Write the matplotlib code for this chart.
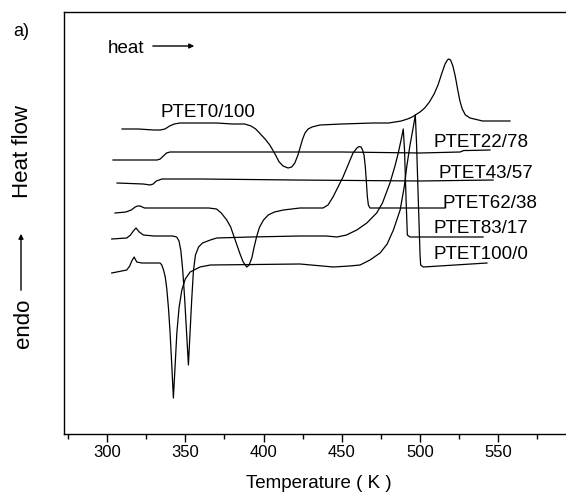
import matplotlib
matplotlib.use("Agg")
import matplotlib.pyplot as plt

plt.rcParams['font.family'] = ['Liberation Sans', 'DejaVu Sans']

# DSC heating traces, temperature (K) vs heat flow (a.u., curves offset)
t_0_100 = [309.6, 320, 330, 334, 337, 340, 343, 346.6, 355, 370, 380, 388, 392, 395, 398, 401, 404,
           407, 410, 412.5, 415.7, 418, 420, 422, 423.5, 425, 426.5, 428.5, 431, 436, 450, 470, 480,
           488, 492, 495, 500, 503, 506, 509, 511.5, 514, 516, 517.5, 518.5, 519.5, 521, 522.5, 524,
           525.5, 527, 529, 532, 540, 557.5]
hf_0_100 = [30.5, 30.5, 30.4, 30.4, 30.5, 30.8, 31.0, 31.1, 31.1, 31.1, 31.0, 31.0, 30.8, 30.5, 30.0, 29.5, 28.9,
            28.1, 27.2, 26.8, 26.6, 26.7, 27.1, 27.9, 28.7, 29.5, 30.1, 30.5, 30.7, 30.9, 31.0, 31.1, 31.1,
            31.3, 31.5, 31.7, 32.2, 32.6, 33.2, 34.0, 34.9, 36.1, 37.0, 37.4, 37.5, 37.4, 36.8, 35.8, 34.5,
            33.3, 32.5, 31.9, 31.6, 31.3, 31.3]

t_22_78 = [303.8, 320, 332, 334, 336, 338, 340.3, 360, 400, 450, 500, 525.6, 528, 530.7, 544.7]
hf_22_78 = [27.4, 27.4, 27.4, 27.5, 27.8, 28.1, 28.2, 28.2, 28.2, 28.2, 28.1, 28.2, 28.35, 28.35, 28.4]

t_43_57 = [306.4, 323, 325.5, 327.5, 329.5, 331.5, 335.1, 360, 420, 500, 546.7]
hf_43_57 = [25.1, 25.0, 24.95, 24.9, 25.0, 25.3, 25.5, 25.5, 25.4, 25.3, 25.4]

t_62_38 = [305.1, 312, 315.5, 318, 319.5, 321.1, 322.5, 324, 327.5, 350, 365, 370, 373, 376.5, 379,
           381, 383, 385, 387, 389.3, 390.8, 392.5, 394, 395.7, 397.5, 400, 403, 407, 412.7, 423.3,
           438.0, 441.2, 444.4, 447.6, 450.8, 454.0, 457.2, 459.7, 461.0, 462.3, 463.3, 464.2, 465.0,
           465.7, 466.3, 467.0, 468.0, 490, 516]
hf_62_38 = [22.1, 22.2, 22.4, 22.7, 22.8, 22.8, 22.7, 22.6, 22.6, 22.6, 22.6, 22.5, 22.1, 21.4, 20.7,
            19.8, 18.9, 18.0, 17.2, 16.7, 16.9, 17.6, 18.7, 19.8, 20.7, 21.4, 21.9, 22.2, 22.4, 22.6,
            22.6, 22.9, 23.7, 24.7, 25.7, 26.9, 28.1, 28.6, 28.75, 28.7, 28.4, 27.9, 26.8,
            25.3, 23.8, 22.9, 22.6, 22.6, 22.6]

t_83_17 = [303.0, 312.6, 315, 316.8, 318.5, 320.6, 323.2, 330, 338.1, 342, 344.5, 346, 347.2, 348.3,
           349.5, 350.7, 352.0, 353.0, 354.1, 355.2, 356.5, 358.5, 361, 366, 370.1, 391.4, 423.3,
           440, 447.0, 453, 459.6, 466, 472.3, 476, 480.8, 484, 486.1, 487.9, 489.3, 490.1, 491.1,
           491.9, 493.6, 540.3]
hf_83_17 = [19.5, 19.6, 19.9, 20.3, 20.6, 20.2, 19.9, 19.8, 19.8, 19.8, 19.7, 19.3, 18.3, 16.5,
            13.8, 10.5, 6.9, 10.0, 13.4, 16.3, 17.9, 18.7, 19.1, 19.4, 19.6, 19.7, 19.8,
            19.8, 19.7, 19.9, 20.4, 21.1, 22.1, 23.1, 25.1, 26.8, 28.1, 29.4, 30.5, 28.4, 23.4,
            19.9, 19.7, 19.7]

t_100_0 = [303.0, 312.6, 314.5, 315.8, 317.3, 319.0, 322.2, 333.9, 335.0, 336.1, 337.2, 338.2, 339.3,
           340.3, 341.4, 342.4, 343.5, 344.6, 346.0, 347.8, 350.0, 353.1, 359.4, 366, 423.3, 444.6,
           455, 461.7, 468, 474.5, 479, 483.0, 487.3, 490.0, 491.5, 493.5, 495.7, 497.0, 497.8,
           498.9, 500.0, 500.4, 502.1, 542.8]
hf_100_0 = [16.1, 16.4, 16.8, 17.3, 17.7, 17.2, 17.1, 17.1, 16.9, 16.4, 15.7, 14.5, 12.5,
            10.1, 6.8, 3.6, 6.8, 10.1, 12.6, 14.4, 15.5, 16.2, 16.7, 16.9, 17.0, 16.7,
            16.8, 16.9, 17.4, 18.1, 19.0, 20.4, 22.4, 24.8, 26.7, 28.8, 30.7, 31.9, 29.0,
            23.4, 18.0, 16.9, 16.7, 17.1]

series = [(t_0_100, hf_0_100), (t_22_78, hf_22_78), (t_43_57, hf_43_57),
          (t_62_38, hf_62_38), (t_83_17, hf_83_17), (t_100_0, hf_100_0)]
names = ["PTET0/100", "PTET22/78", "PTET43/57", "PTET62/38", "PTET83/17", "PTET100/0"]
label_xy = [(333.9, 31.7), (508.3, 28.7), (511.5, 25.6), (514.1, 22.6), (508.9, 20.1), (508.9, 17.5)]

fig = plt.figure(figsize=(5.66, 4.95), dpi=100)
ax = fig.add_axes([64/566, 61/495, 510/566, 422/495])

for (t, hf) in series:
    ax.plot(t, hf, color="black", linewidth=0.9, solid_joinstyle="round")

for name, (x, y) in zip(names, label_xy):
    ax.text(x, y, name, fontsize=13.5, va="baseline", ha="left")

ax.text(300.6, 38.1, "heat", fontsize=13.5, va="baseline", ha="left")
ax.annotate("", xy=(357.5, 38.8), xytext=(327.5, 38.8),
            arrowprops=dict(arrowstyle="-|>", color="black", lw=1.0, mutation_scale=7))

ax.set_xlim(272.5, 598.4)
ax.set_ylim(0, 42.2)
ax.set_xticks([300, 350, 400, 450, 500, 550])
ax.set_xticks([275, 325, 375, 425, 475, 525, 575], minor=True)
ax.set_yticks([])
ax.tick_params(axis="x", which="major", direction="out", length=6, width=1.0, labelsize=12, pad=2)
ax.tick_params(axis="x", which="minor", direction="out", length=3.5, width=1.0)
for s in ax.spines.values():
    s.set_linewidth(1.0)

ax.set_xlabel("Temperature ( K )", fontsize=13.5)
ax.xaxis.set_label_coords((319 - 64) / 510, -0.098)

# y label drawn in pieces: endo ---> Heat flow
fig.text(23/566, 1 - 152/495, "Heat flow", rotation=90, fontsize=16, ha="center", va="center")
fig.text(23/566, 1 - 323/495, "endo", rotation=90, fontsize=16, ha="center", va="center")
fig.add_artist(matplotlib.patches.FancyArrowPatch((21/566, 1 - 293/495), (21/566, 1 - 231/495),
               transform=fig.transFigure, arrowstyle="-|>", mutation_scale=7, color="black", lw=1.0))

fig.text(13/566, 1 - 36/495, "a)", fontsize=13, ha="left", va="baseline")

fig.savefig("out.png", dpi=100)
